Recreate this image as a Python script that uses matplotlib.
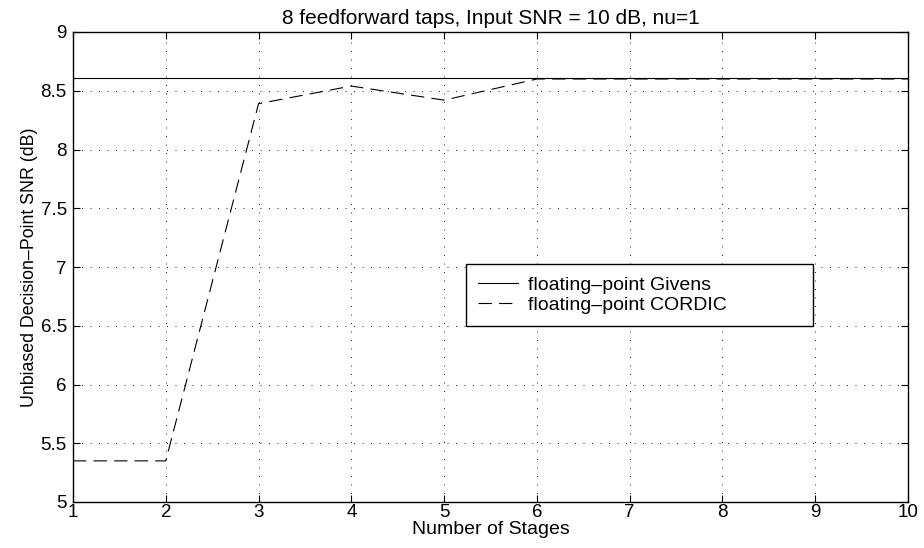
import matplotlib
matplotlib.use("Agg")
import matplotlib.pyplot as plt

stages = [1, 2, 3, 4, 5, 6, 7, 8, 9, 10]
givens = [8.606] * 10
cordic = [5.35, 5.35, 8.39, 8.54, 8.42, 8.60, 8.60, 8.60, 8.60, 8.60]
yticks = [5, 5.5, 6, 6.5, 7, 7.5, 8, 8.5, 9]
ytick_labels = ['5', '5.5', '6', '6.5', '7', '7.5', '8', '8.5', '9']
labels = ['floating\u2013point Givens', 'floating\u2013point CORDIC']

plt.rcParams['font.family'] = ['Liberation Sans', 'DejaVu Sans']

fig = plt.figure(figsize=(9.24, 5.48), dpi=100)
# axes spans x 73..908 px, y 32..502 px
ax = fig.add_axes([73 / 924, 1 - 502 / 548, 835 / 924, 470 / 548])

ax.plot(stages, givens, color='black', linewidth=0.8, linestyle='-', label=labels[0])
ax.plot(stages, cordic, color='black', linewidth=0.8, linestyle=(0, (12, 6.5)), label=labels[1])

ax.set_xlim(1, 10)
ax.set_ylim(5, 9)
ax.set_xticks(stages)
ax.set_yticks(yticks)
ax.set_yticklabels(ytick_labels)
ax.grid(True, color='black', linestyle=(0, (1.2, 9)), linewidth=0.6)
ax.tick_params(direction='in', top=True, right=True, labelsize=13.5, length=5, width=0.8)
ax.tick_params(axis='x', pad=1.5)
ax.tick_params(axis='y', pad=4.5)
for s in ax.spines.values():
    s.set_linewidth(1.0)

ax.set_xlabel('Number of Stages', fontsize=14, labelpad=0)
ax.set_ylabel('Unbiased Decision\u2013Point SNR (dB)', fontsize=12.8, labelpad=1.5)
ax.set_title('8 feedforward taps, Input SNR = 10 dB, nu=1', fontsize=15, pad=5.5)

leg = ax.legend(loc='upper left', bbox_to_anchor=(0.4707, 0.5064, 0.4156, 0.0), mode='expand',
                fontsize=14, frameon=True, fancybox=False, edgecolor='black',
                handlelength=2.05, handletextpad=0.5, borderaxespad=0, framealpha=1,
                borderpad=0.62, labelspacing=0.12)
leg.get_frame().set_linewidth(1.0)

fig.savefig('out.png', dpi=100)
